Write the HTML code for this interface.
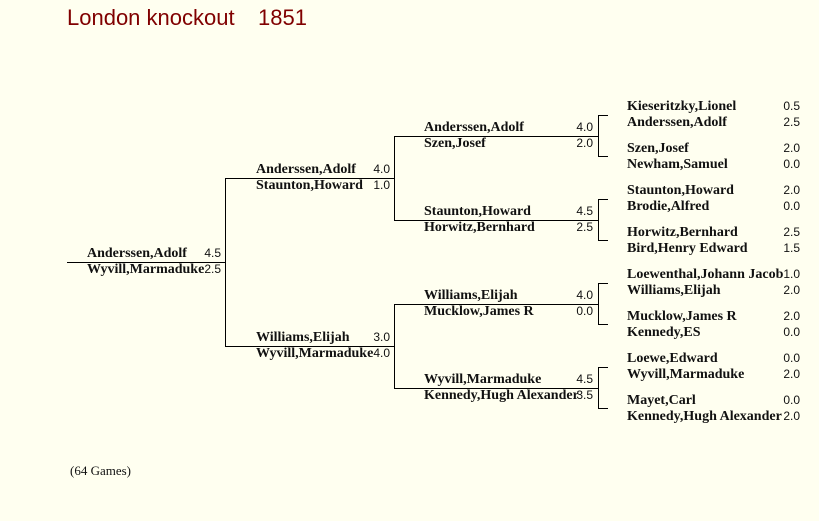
<!DOCTYPE html>
<html><head><meta charset="utf-8"><style>
html,body{margin:0;padding:0;background:#FFFFF0;}
svg{display:block}
.n{font-family:"Liberation Serif",serif;font-weight:bold;font-size:14px;fill:#111}
.s{font-family:"Liberation Sans",sans-serif;font-size:12px;fill:#111;text-anchor:end}
</style></head><body>
<svg width="819" height="521" xmlns="http://www.w3.org/2000/svg">
<rect width="819" height="521" fill="#FFFFF0"/>
<text x="67" y="25" font-family="Liberation Sans, sans-serif" font-size="22" fill="#800000">London knockout</text>
<text x="258" y="25" font-family="Liberation Sans, sans-serif" font-size="22" fill="#800000">1851</text>
<g stroke="#000" stroke-width="1" fill="none" shape-rendering="crispEdges">
<path d="M67 262.5H225.5M225.5 178V346M225 178.5H394.5M225 346.5H394.5M394.5 136V220M394.5 304V388M394 136.5H598M394 220.5H598M394 304.5H598M394 388.5H598"/>
<path d="M608 115.5H598.5V156.5H608M608 199.5H598.5V240.5H608M608 283.5H598.5V324.5H608M608 367.5H598.5V408.5H608"/>
</g>
<text class="n" x="87" y="257">Anderssen,Adolf</text><text class="s" x="221" y="257">4.5</text>
<text class="n" x="87" y="273">Wyvill,Marmaduke</text><text class="s" x="221" y="273">2.5</text>
<text class="n" x="256" y="173">Anderssen,Adolf</text><text class="s" x="390" y="173">4.0</text>
<text class="n" x="256" y="189">Staunton,Howard</text><text class="s" x="390" y="189">1.0</text>
<text class="n" x="256" y="341">Williams,Elijah</text><text class="s" x="390" y="341">3.0</text>
<text class="n" x="256" y="357">Wyvill,Marmaduke</text><text class="s" x="390" y="357">4.0</text>
<text class="n" x="424" y="131">Anderssen,Adolf</text><text class="s" x="593" y="131">4.0</text>
<text class="n" x="424" y="147">Szen,Josef</text><text class="s" x="593" y="147">2.0</text>
<text class="n" x="424" y="215">Staunton,Howard</text><text class="s" x="593" y="215">4.5</text>
<text class="n" x="424" y="231">Horwitz,Bernhard</text><text class="s" x="593" y="231">2.5</text>
<text class="n" x="424" y="299">Williams,Elijah</text><text class="s" x="593" y="299">4.0</text>
<text class="n" x="424" y="315">Mucklow,James R</text><text class="s" x="593" y="315">0.0</text>
<text class="n" x="424" y="383">Wyvill,Marmaduke</text><text class="s" x="593" y="383">4.5</text>
<text class="n" x="424" y="399">Kennedy,Hugh Alexander</text><text class="s" x="593" y="399">3.5</text>
<text class="n" x="627" y="110">Kieseritzky,Lionel</text><text class="s" x="800" y="110">0.5</text>
<text class="n" x="627" y="126">Anderssen,Adolf</text><text class="s" x="800" y="126">2.5</text>
<text class="n" x="627" y="152">Szen,Josef</text><text class="s" x="800" y="152">2.0</text>
<text class="n" x="627" y="168">Newham,Samuel</text><text class="s" x="800" y="168">0.0</text>
<text class="n" x="627" y="194">Staunton,Howard</text><text class="s" x="800" y="194">2.0</text>
<text class="n" x="627" y="210">Brodie,Alfred</text><text class="s" x="800" y="210">0.0</text>
<text class="n" x="627" y="236">Horwitz,Bernhard</text><text class="s" x="800" y="236">2.5</text>
<text class="n" x="627" y="252">Bird,Henry Edward</text><text class="s" x="800" y="252">1.5</text>
<text class="n" x="627" y="278">Loewenthal,Johann Jacob</text><text class="s" x="800" y="278">1.0</text>
<text class="n" x="627" y="294">Williams,Elijah</text><text class="s" x="800" y="294">2.0</text>
<text class="n" x="627" y="320">Mucklow,James R</text><text class="s" x="800" y="320">2.0</text>
<text class="n" x="627" y="336">Kennedy,ES</text><text class="s" x="800" y="336">0.0</text>
<text class="n" x="627" y="362">Loewe,Edward</text><text class="s" x="800" y="362">0.0</text>
<text class="n" x="627" y="378">Wyvill,Marmaduke</text><text class="s" x="800" y="378">2.0</text>
<text class="n" x="627" y="404">Mayet,Carl</text><text class="s" x="800" y="404">0.0</text>
<text class="n" x="627" y="420">Kennedy,Hugh Alexander</text><text class="s" x="800" y="420">2.0</text>
<text x="70" y="475" font-family="Liberation Serif, serif" font-size="13" fill="#111">(64 Games)</text>
</svg>
</body></html>
